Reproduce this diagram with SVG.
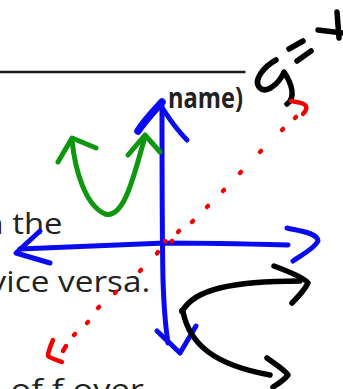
<svg xmlns="http://www.w3.org/2000/svg" width="343" height="389" viewBox="0 0 343 389">
<style>
.t{font-family:"Open Sans","Liberation Sans",sans-serif;font-size:29px;fill:#222}
.b{font-family:"Open Sans","Liberation Sans",sans-serif;font-size:28px;font-weight:bold;fill:#222}
.s{fill:none;stroke-linecap:round;stroke-linejoin:round}
.blue{stroke:#0a0af0;stroke-width:5}
.green{stroke:#0f960f;stroke-width:5}
.black{stroke:#000;stroke-width:5.5}
.red{stroke:#f00000;stroke-width:4.5}
</style>
<rect width="343" height="389" fill="#fff"/>
<g id="document-text">
<line x1="0" y1="72" x2="245.5" y2="72" stroke="#1e1e1e" stroke-width="2.6"/>
<text class="b" x="168" y="108" textLength="75" lengthAdjust="spacingAndGlyphs">name)</text>
<text class="t" x="-16.5" y="234" textLength="79" lengthAdjust="spacingAndGlyphs">n the</text>
<text class="t" x="-10.4" y="292" textLength="160.6" lengthAdjust="spacingAndGlyphs">vice versa.</text>
<text class="t" x="-18" y="400" textLength="162" lengthAdjust="spacingAndGlyphs">e of f over</text>
</g>
<g id="axes" class="s blue">
<path d="M162,106 C162,160 162,230 163,280 C164,310 166,330 168,343"/>
<path d="M162,102 C155,110 145,120 138,131" stroke-width="7.5"/>
<path d="M163,109 C170,120 178,131 187,140"/>
<path d="M157,331 L180,353 L196,326"/>
<path d="M20,249 C60,247 110,245 165,243 C210,243 250,244 288,245"/>
<path d="M40,231 L16,253 L50,263"/>
<path d="M287,228 C300,231 318,233 318,241 C314,249 300,256 293,261"/>
</g>
<g id="parabola" class="s green">
<path d="M58,162 L72,138 L96,148"/>
<path d="M72,140 C75,170 85,205 105,214 C125,220 135,170 145,137"/>
<path d="M128,155 L145,135 L160,152"/>
</g>
<g id="label-y-equals-x" class="s black" stroke-width="6">
<path d="M276,60 C265,66 252,80 260,88 C266,94 279,84 284,72 C292,84 296,98 287,104"/>
<path d="M289,49 L303,41"/>
<path d="M297,61 L311,51"/>
<path d="M318,30 L343,33"/>
<path d="M337,12 L339,38"/>
</g>
<g id="reflection-arrows" class="s black">
<path d="M183,310 C195,290 230,281 300,281"/>
<path d="M274,266 C290,272 305,278 308,283 C304,291 298,297 292,303"/>
<path d="M183,312 C190,345 215,365 270,375"/>
<path d="M267,358 C275,364 285,370 288,375 C284,380 278,384 273,387"/>
<circle cx="182.5" cy="311" r="3.5" fill="#000" stroke="none"/>
</g>
<g id="line-y-equals-x" class="s red">
<path d="M291,101 C298,102 305,104 306,106 C307,109 305,112 303,114"/>
<path d="M296,117 l-1,1 M283,129 l-1,1 M261,151 l-1,1 M241,172 l-1,1 M224,190 l-1,1 M208,206 l-1,1 M193,221 l-1,1 M179,231 l-1,1 M172,241 l0,0.5 M165,241 l0,0.5 M158,252 l-1,1.5 M141,270 l-1,1 M116,292 l-1,1 M99,307 l-1,1 M88,322 l-1,1 M75,334 l-1,1 M66,346 l-3,5"/>
<path d="M53,340 C50,347 48,352 48,356 C52,359 57,360 62,362"/>
</g>
</svg>
